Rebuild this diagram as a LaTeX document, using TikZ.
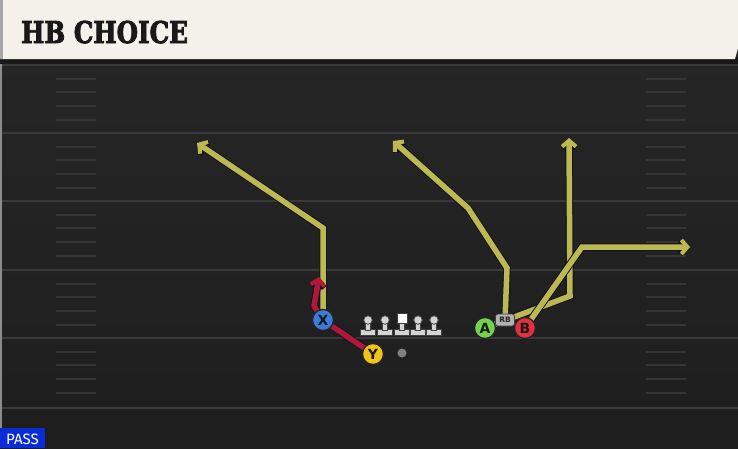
\documentclass[tikz,border=0pt]{standalone}
\usepackage{fontspec}
\setmainfont{DejaVu Sans}
\newfontfamily\titlefont{DejaVu Serif}[BoldFeatures={FakeBold=3}]
\newfontfamily\passfont{Fira Sans}
\usetikzlibrary{arrows.meta}
\definecolor{fieldtop}{HTML}{272727}
\definecolor{fieldbot}{HTML}{1E1E1E}
\definecolor{yardline}{HTML}{3A3A3A}
\definecolor{hashline}{HTML}{353535}
\definecolor{headcream}{HTML}{F4F1EA}
\definecolor{routeyel}{HTML}{BCB952}
\definecolor{routered}{HTML}{B0183A}
\definecolor{routeedge}{HTML}{141420}
\definecolor{xblue}{HTML}{3C7BDA}
\definecolor{yyellow}{HTML}{F2C318}
\definecolor{agreen}{HTML}{74D34E}
\definecolor{bred}{HTML}{E2303E}
\definecolor{passblue}{HTML}{0A2BD6}
\definecolor{manfill}{HTML}{D4D4D4}
\pgfdeclarelayer{field}
\pgfdeclarelayer{routes}
\pgfsetlayers{field,routes,main}
\tikzset{
  yard/.style={draw=yardline, line width=2pt},
  hash/.style={draw=hashline, line width=2pt},
  routeback/.style={draw=routeedge, line width=7.5pt, line join=miter,
    -{Straight Barb[length=6pt,width=14pt,line width=6pt]}},
  routeyellow/.style={draw=routeyel, line width=5.5pt, line join=miter,
    -{Straight Barb[length=6pt,width=14pt,line width=4pt]}},
  routeredback/.style={draw=routeedge, line width=7.5pt, line join=round,
    -{Straight Barb[length=6pt,width=14pt,line width=6pt]}},
  routeredline/.style={draw=routered, line width=5.5pt, line join=round,
    -{Straight Barb[length=6pt,width=14pt,line width=4pt]}},
  player/.style={circle, minimum size=21pt, inner sep=0pt, draw=black!85,
    line width=1.3pt, font=\bfseries\fontsize{14}{14}\selectfont, text=black!90},
  rbtag/.style={rounded corners=2.5pt, fill=black!30, draw=black!75, line width=0.8pt,
    minimum width=19pt, minimum height=12pt, inner sep=0pt,
    font=\bfseries\fontsize{7.5}{7.5}\selectfont, text=black!85},
  manpart/.style={fill=manfill, draw=black!75, line width=0.8pt},
  lineman/.pic={
    \filldraw[manpart] (-7.5,3.5) rectangle (7.5,9.5);
    \filldraw[manpart] (-2.7,-3) rectangle (2.7,4);
    \filldraw[manpart] (0,-6) circle (4.3);
  },
  centerman/.pic={
    \filldraw[manpart] (-7.5,3.5) rectangle (7.5,9.5);
    \filldraw[manpart] (-2.7,-3) rectangle (2.7,4);
    \filldraw[manpart, fill=white] (-5,-13) rectangle (5,-3);
  }
}
\begin{document}
\begin{tikzpicture}[x=1pt,y=-1pt]
\useasboundingbox (0,0) rectangle (738,448);
\begin{pgfonlayer}{field}
  \fill[top color=fieldtop, bottom color=fieldbot] (0,0) rectangle (738,448);
  \foreach \yy in {65,133,201,270,338,408} \draw[yard] (0,\yy) -- (738,\yy);
  \foreach \yy in {65,133,201,270,338} \foreach \dd in {14,27,41,55} {
    \draw[hash] (56,\yy+\dd) -- (96,\yy+\dd);
    \draw[hash] (646,\yy+\dd) -- (686,\yy+\dd);
  }
  \fill[black!45] (0,60) rectangle (2,448);
  % header
  \fill[black!90] (0,57) rectangle (738,64);
  \fill[headcream] (0,0) -- (738,0) -- (738,48) -- (735,59) -- (0,59) -- cycle;
  \fill[black!35] (0,0) rectangle (3,59);
  \node[anchor=base west, inner sep=0pt, text=black!90,
    font=\titlefont\bfseries\fontsize{30}{30}\selectfont] (title) at (21,43)
    {\scalebox{0.82}[1]{HB CHOICE}};
  % pass label
  \fill[passblue] (0,428) rectangle (45,448);
  \node[anchor=base, inner sep=0pt, text=white,
    font=\passfont\fontsize{15}{15}\selectfont] (pass) at (22.5,444) {PASS};
\end{pgfonlayer}

% players
\node[player, fill=xblue] (X) at (323,320) {X};
\node[player, fill=yyellow] (Y) at (373,354) {Y};
\node[player, fill=agreen] (A) at (485,328) {A};
\node[player, fill=bred] (B) at (525,328) {B};
\node[rbtag] (RB) at (505,320) {RB};
\node[circle, fill=black!50, minimum size=9pt, inner sep=0pt] (ball) at (402,353) {};
\pic at (368,326) {lineman};
\pic at (385,326) {lineman};
\pic at (402,326) {centerman};
\pic at (418,326) {lineman};
\pic at (434,326) {lineman};

% route points
\coordinate (x1) at (323,228);
\coordinate (xe) at (197,143);
\coordinate (r1) at (507,268);
\coordinate (r2) at (468,208);
\coordinate (re) at (393,141);
\coordinate (a1) at (570,296);
\coordinate (ae) at (569,138);
\coordinate (b1) at (582,247);
\coordinate (be) at (690,247);
\coordinate (y1) at (314,306);
\coordinate (ye) at (319,277);

\begin{pgfonlayer}{routes}
  \draw[routeback] (X.center) -- (x1) -- (xe);
  \draw[routeyellow] (X.center) -- (x1) -- (xe);
  \draw[routeback] (RB.center) -- (r1) -- (r2) -- (re);
  \draw[routeyellow] (RB.center) -- (r1) -- (r2) -- (re);
  \draw[routeback] (A.center) -- (a1) -- (ae);
  \draw[routeyellow] (A.center) -- (a1) -- (ae);
  \draw[routeback] (B.center) -- (b1) -- (be);
  \draw[routeyellow] (B.center) -- (b1) -- (be);
  \draw[routeredback] (Y.center) -- (X.center) -- (y1) -- (ye);
  \draw[routeredline] (Y.center) -- (X.center) -- (y1) -- (ye);
\end{pgfonlayer}
\end{tikzpicture}
\end{document}
